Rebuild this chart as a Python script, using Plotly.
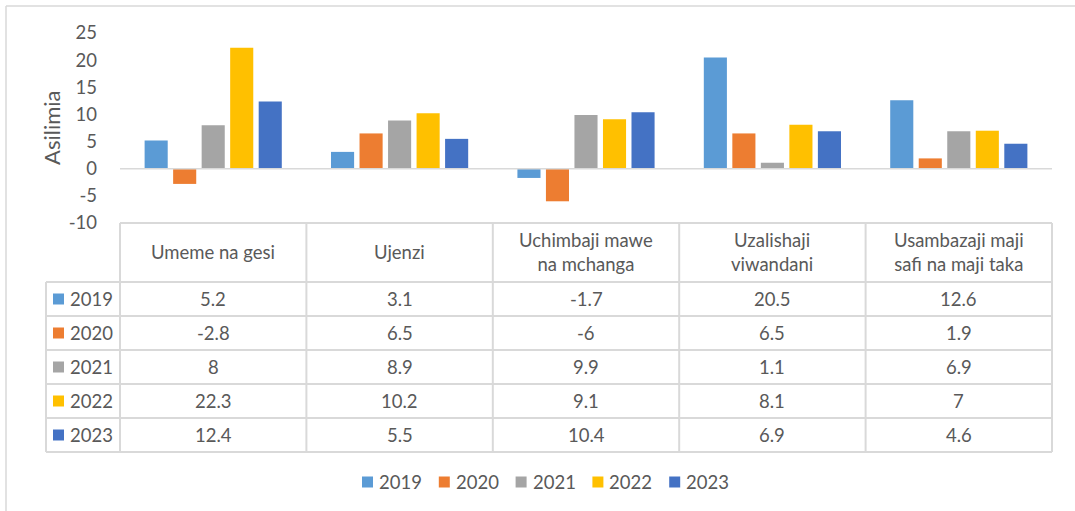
import plotly.graph_objects as go

categories = ["Umeme na gesi", "Ujenzi", "Uchimbaji mawe na mchanga",
              "Uzalishaji viwandani", "Usambazaji maji safi na maji taka"]
header_labels = ["Umeme na gesi", "Ujenzi", "Uchimbaji mawe<br>na mchanga",
                 "Uzalishaji<br>viwandani", "Usambazaji maji<br>safi na maji taka"]
years = ["2019", "2020", "2021", "2022", "2023"]
v2019 = [5.2, 3.1, -1.7, 20.5, 12.6]
v2020 = [-2.8, 6.5, -6, 6.5, 1.9]
v2021 = [8, 8.9, 9.9, 1.1, 6.9]
v2022 = [22.3, 10.2, 9.1, 8.1, 7]
v2023 = [12.4, 5.5, 10.4, 6.9, 4.6]
series = [v2019, v2020, v2021, v2022, v2023]
colors = ["#5B9BD5", "#ED7D31", "#A5A5A5", "#FFC000", "#4472C4"]
yticks = [25, 20, 15, 10, 5, 0, -5, -10]

W, H = 1075, 511
FONT = "Lato"
TXT = "#595959"
GRID = "#d9d9d9"
FS = 18.5


def px(x):
    return x / W


def py(y):
    return 1 - y / H


fig = go.Figure()
for name, vals, col in zip(years, series, colors):
    fig.add_trace(go.Bar(x=categories, y=vals, name=name, marker_color=col,
                         marker_line_width=0, showlegend=False))

shapes = []
annotations = []

# outer chart border (partially visible)
shapes.append(dict(type="line", xref="paper", yref="paper", x0=px(6), x1=px(1075),
                   y0=py(6), y1=py(6), line=dict(color=GRID, width=1.5)))
shapes.append(dict(type="line", xref="paper", yref="paper", x0=px(6), x1=px(6),
                   y0=py(6), y1=py(511), line=dict(color=GRID, width=1.5)))

# zero line
shapes.append(dict(type="line", xref="paper", yref="y", x0=px(120), x1=px(1052),
                   y0=0, y1=0, line=dict(color=GRID, width=1.5)))

# data table grid
col_x = [120, 306.4, 492.8, 679.2, 865.6, 1052]
row_y = [282, 316, 350, 384, 418, 452]
shapes.append(dict(type="line", xref="paper", yref="paper", x0=px(120), x1=px(1052),
                   y0=py(223), y1=py(223), line=dict(color=GRID, width=2)))
for yy in row_y:
    shapes.append(dict(type="line", xref="paper", yref="paper", x0=px(46), x1=px(1052),
                       y0=py(yy), y1=py(yy), line=dict(color=GRID, width=2)))
for xx in col_x:
    shapes.append(dict(type="line", xref="paper", yref="paper", x0=px(xx), x1=px(xx),
                       y0=py(223), y1=py(452), line=dict(color=GRID, width=2)))
shapes.append(dict(type="line", xref="paper", yref="paper", x0=px(46), x1=px(46),
                   y0=py(282), y1=py(452), line=dict(color=GRID, width=2)))

# header labels
for cat, lab in zip(categories, header_labels):
    annotations.append(dict(x=cat, xref="x", y=py(252.5), yref="paper", text=lab,
                            showarrow=False, font=dict(family=FONT, size=FS, color=TXT),
                            xanchor="center", yanchor="middle"))

# rows
for i, (name, vals, col) in enumerate(zip(years, series, colors)):
    yc = 282 + 34 * i + 17
    shapes.append(dict(type="rect", xref="paper", yref="paper", x0=px(53), x1=px(64),
                       y0=py(yc - 5.5), y1=py(yc + 5.5), fillcolor=col,
                       line=dict(width=0)))
    annotations.append(dict(x=px(68), xref="paper", y=py(yc), yref="paper", text=name,
                            showarrow=False, font=dict(family=FONT, size=FS, color=TXT),
                            xanchor="left", yanchor="middle"))
    for cat, v in zip(categories, vals):
        annotations.append(dict(x=cat, xref="x", y=py(yc), yref="paper", text=f"{v:g}",
                                showarrow=False, font=dict(family=FONT, size=FS, color=TXT),
                                xanchor="center", yanchor="middle"))

# custom legend
for i, (name, col) in enumerate(zip(years, colors)):
    x0 = 362 + 76.8 * i
    shapes.append(dict(type="rect", xref="paper", yref="paper", x0=px(x0), x1=px(x0 + 11),
                       y0=py(482 - 5.5), y1=py(482 + 5.5), fillcolor=col,
                       line=dict(width=0)))
    annotations.append(dict(x=px(x0 + 15), xref="paper", y=py(482), yref="paper", text=name,
                            showarrow=False, font=dict(family=FONT, size=FS, color=TXT),
                            xanchor="left", yanchor="middle"))

# y-axis title
annotations.append(dict(x=px(51), xref="paper", y=py(128), yref="paper", text="Asilimia",
                        textangle=-90, showarrow=False,
                        font=dict(family=FONT, size=22, color=TXT),
                        xanchor="center", yanchor="middle"))

fig.update_layout(
    width=W, height=H,
    margin=dict(l=0, r=0, t=0, b=0, autoexpand=False),
    paper_bgcolor="white", plot_bgcolor="white",
    barmode="group", bargap=0.235, bargroupgap=0.19,
    showlegend=False,
    font=dict(family=FONT, color=TXT),
    xaxis=dict(domain=[px(120), px(1052)], showticklabels=False, showgrid=False,
               zeroline=False, showline=False, ticks="", automargin=False),
    yaxis=dict(domain=[py(223), py(33)], range=[-10, 25], tickmode="array",
               tickvals=yticks, ticktext=[str(t) for t in yticks],
               showgrid=False, zeroline=False, showline=False, ticks="", automargin=False,
               tickfont=dict(family=FONT, size=FS, color=TXT), ticklabelstandoff=22),
    shapes=shapes,
    annotations=annotations,
)

fig.write_html("out.html", config={"displayModeBar": False},
               post_script="document.body.style.margin='0';")
